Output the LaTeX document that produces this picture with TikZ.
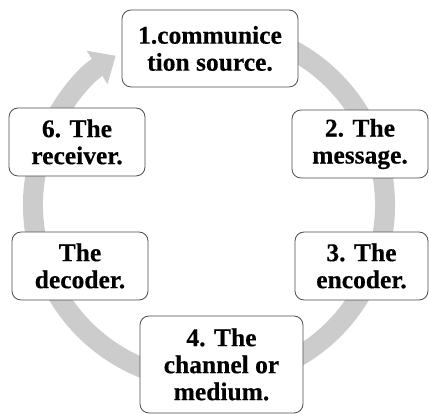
\documentclass[tikz,border=0pt]{standalone}
\usepackage{fontspec}
\setmainfont[FakeBold=0.4]{Liberation Serif}
\usetikzlibrary{arrows.meta}

\begin{document}
\begin{tikzpicture}[x=1pt,y=1pt,
	stage/.style={draw=black!70,line width=0.8pt,fill=white,rounded corners=9pt,align=center,inner sep=0pt,minimum height=68pt,font=\fontsize{25.5}{27}\selectfont\bfseries},
	ring/.style={draw=black!20,line width=20pt,-{Triangle[width=38pt,length=22pt]}}]
	\useasboundingbox (0,0) rectangle (429,414);
	\coordinate (ctr) at (209,209);
	\draw[ring] (ctr) ++(70:176) arc[start angle=70,end angle=-238,radius=176];
	
	\node[stage,minimum width=176pt,minimum height=77pt] (source) at (210,365.5) {1.communice\\tion source.};
	\node[stage,minimum width=136pt] (message) at (360,270) {2. The\\message.};
	\node[stage,minimum width=133pt] (encoder) at (361.5,148) {3. The\\encoder.};
	\node[stage,minimum width=163pt,minimum height=97pt] (channel) at (221.5,49.5) {4. The\\channel or\\medium.};
	\node[stage,minimum width=136pt] (decoder) at (80,148) {The\\decoder.};
	\node[stage,minimum width=136pt] (receiver) at (77,272) {6. The\\receiver.};
\end{tikzpicture}
\end{document}
